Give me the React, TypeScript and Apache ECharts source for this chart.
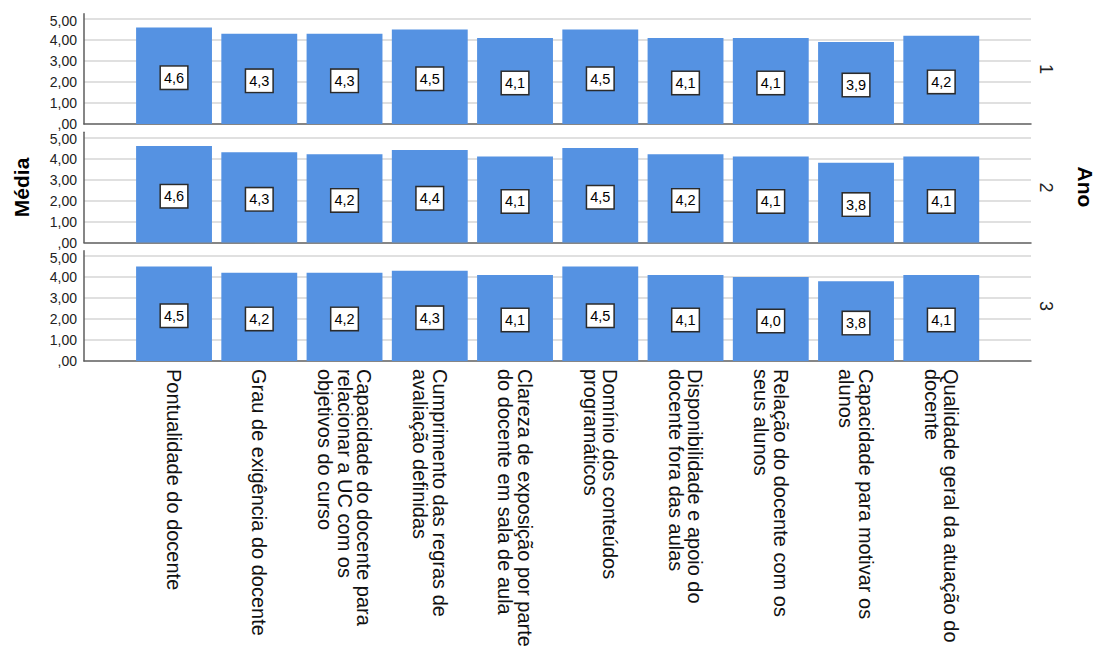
import React, { useEffect, useRef } from "react";
import * as echarts from "echarts";

const categorias = [
  "Pontualidade do docente",
  "Grau de exigência do docente",
  "Capacidade do docente para\nrelacionar a UC com os\nobjetivos do curso",
  "Cumprimento das regras de\navaliação definidas",
  "Clareza de exposição por parte\ndo docente em sala de aula",
  "Domínio dos conteúdos\nprogramáticos",
  "Disponibilidade e apoio do\ndocente fora das aulas",
  "Relação do docente com os\nseus alunos",
  "Capacidade para motivar os\nalunos",
  "Qualidade geral da atuação do\ndocente",
];

const ano1 = [4.6, 4.3, 4.3, 4.5, 4.1, 4.5, 4.1, 4.1, 3.9, 4.2];
const ano2 = [4.6, 4.3, 4.2, 4.4, 4.1, 4.5, 4.2, 4.1, 3.8, 4.1];
const ano3 = [4.5, 4.2, 4.2, 4.3, 4.1, 4.5, 4.1, 4.0, 3.8, 4.1];
const anos = ["1", "2", "3"];
const seriesAnos = [ano1, ano2, ano3];

const FONT = "Arial, 'Liberation Sans', sans-serif";
const BAR_COLOR = "#5592E2";
const GRID_COLOR = "#D6D6D6";
const AXIS_COLOR = "#5E5E5E";

export default function App() {
  const ref = useRef<HTMLDivElement>(null);

  useEffect(() => {
    if (!ref.current) return;
    const chart = echarts.init(ref.current, null, { renderer: "svg" });

    const grid: any[] = [];
    const xAxis: any[] = [];
    const yAxis: any[] = [];
    const series: any[] = [];

    const unit = 21;
    const yMax = 5.25;
    const gridH = unit * yMax;

    for (let i = 0; i < 3; i++) {
      const y0 = 124 + i * 118.5;
      const top = y0 - gridH;
      grid.push({ left: 84, right: 65, top, height: gridH, outerBoundsMode: "none", containLabel: false });
      grid.push({ left: 131.4, right: 1096 - 983.9, top, height: gridH, outerBoundsMode: "none", containLabel: false });

      xAxis.push({
        gridIndex: 2 * i,
        type: "value",
        min: 0,
        max: 1,
        axisLine: { show: true, onZero: true, lineStyle: { color: AXIS_COLOR, width: 1.5 } },
        axisTick: { show: false },
        axisLabel: { show: false },
        splitLine: { show: false },
      });
      xAxis.push({
        gridIndex: 2 * i + 1,
        type: "category",
        data: categorias,
        axisLine: { show: false },
        axisTick: { show: false },
        splitLine: { show: false },
        axisLabel:
          i === 2
            ? {
                show: true,
                interval: 0,
                rotate: -90,
                margin: 8,
                fontSize: 20,
                lineHeight: 19.5,
                fontFamily: FONT,
                color: "#111",
                hideOverlap: false,
              }
            : { show: false },
      });

      yAxis.push({
        gridIndex: 2 * i,
        type: "value",
        position: "left",
        min: 0,
        max: yMax,
        interval: 1,
        name: i === 1 ? "Média" : "",
        nameLocation: "middle",
        nameRotate: 90,
        nameGap: 52,
        nameTextStyle: { fontSize: 21, fontWeight: "bold", fontFamily: FONT, color: "#000" },
        axisLine: { show: true, lineStyle: { color: AXIS_COLOR, width: 1.5 } },
        axisTick: { show: false },
        axisLabel: {
          show: true,
          showMaxLabel: false,
          margin: 7,
          fontSize: 14,
          lineHeight: 12,
          fontFamily: FONT,
          color: "#222",
          formatter: (v: number) =>
            Math.abs(v - Math.round(v)) > 1e-6
              ? ""
              : v === 0
              ? ",00"
              : v === 5
              ? "{t|5,00}"
              : v.toFixed(2).replace(".", ","),
          rich: {
            t: { fontSize: 14, fontFamily: FONT, color: "#222", lineHeight: 12, padding: [3, 0, 0, 0] },
          },
        },
        splitLine: {
          show: true,
          showMinLine: false,
          showMaxLine: false,
          lineStyle: { color: GRID_COLOR, width: 1.5 },
        },
      });
      yAxis.push({
        gridIndex: 2 * i,
        type: "value",
        position: "right",
        min: 0,
        max: yMax,
        name: anos[i],
        nameLocation: "middle",
        nameRotate: -90,
        nameGap: 6,
        nameTextStyle: { fontSize: 18, fontFamily: FONT, color: "#222" },
        axisLine: { show: false },
        axisTick: { show: false },
        axisLabel: { show: false },
        splitLine: { show: false },
      });
      yAxis.push({
        gridIndex: 2 * i + 1,
        type: "value",
        min: 0,
        max: yMax,
        show: false,
        splitLine: { show: false },
      });

      series.push({
        type: "bar",
        name: anos[i],
        xAxisIndex: 2 * i + 1,
        yAxisIndex: 3 * i + 2,
        data: seriesAnos[i],
        barWidth: "89%",
        itemStyle: { color: BAR_COLOR },
        label: {
          show: true,
          position: "inside",
          offset: [0, 2],
          formatter: (p: any) => Number(p.value).toFixed(1).replace(".", ","),
          color: "#000",
          fontSize: 14.5,
          lineHeight: 15,
          fontFamily: FONT,
          backgroundColor: "#fff",
          borderColor: "#2b2b2b",
          borderWidth: 1.5,
          padding: [4, 3, 3, 3],
        },
      });
    }

    chart.setOption({
      animation: false,
      backgroundColor: "#fff",
      grid,
      xAxis,
      yAxis,
      series,
      graphic: [
        {
          type: "text",
          x: 1085,
          y: 187,
          rotation: -Math.PI / 2,
          style: {
            text: "Ano",
            fontSize: 21,
            fontWeight: "bold",
            fontFamily: FONT,
            fill: "#000",
            align: "center",
            verticalAlign: "middle",
          },
        },
      ],
    });

    return () => chart.dispose();
  }, []);

  return (
    <div
      ref={ref}
      style={{ position: "absolute", left: 0, top: 0, width: 1096, height: 655 }}
    />
  );
}
